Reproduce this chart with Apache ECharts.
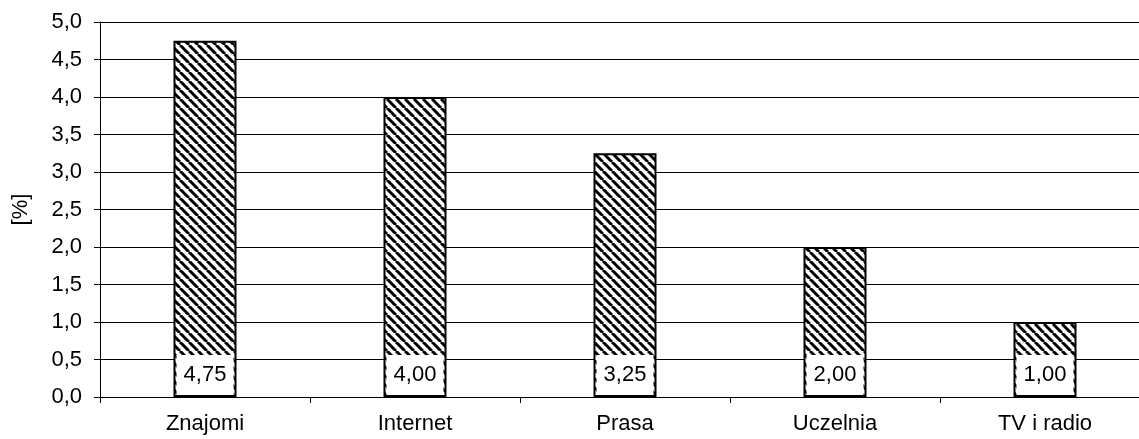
<!DOCTYPE html>
<html>
<head>
<meta charset="utf-8">
<script src="https://cdn.jsdelivr.net/npm/echarts@6/dist/echarts.min.js"></script>
<style>
  html, body { margin: 0; padding: 0; background: #fff; }
  #chart { width: 1139px; height: 439px; }
</style>
</head>
<body>
<div id="chart"></div>
<script>
const categories = ['Znajomi', 'Internet', 'Prasa', 'Uczelnia', 'TV i radio']
const values = [4.75, 4.00, 3.25, 2.00, 1.00]
const yTicks = { min: 0, max: 5, step: 0.5 }

// diagonal hatch like the original "\\\\" fill
function hatch () {
  const size = 9
  const c = document.createElement('canvas')
  c.width = size
  c.height = size
  const ctx = c.getContext('2d')
  ctx.fillStyle = '#fff'
  ctx.fillRect(0, 0, size, size)
  ctx.strokeStyle = '#000'
  ctx.lineWidth = 3
  for (const o of [-size, 0, size]) {
    ctx.beginPath()
    ctx.moveTo(o, 0)
    ctx.lineTo(o + size, size)
    ctx.stroke()
  }
  return c
}

const comma = (v, d) => v.toFixed(d).replace('.', ',')
const font = 'Liberation Sans, Arial, sans-serif'

const chart = echarts.init(document.getElementById('chart'))
chart.setOption({
  animation: false,
  grid: { left: 100, top: 22, width: 1050, bottom: 42, outerBoundsMode: 'none' },
  xAxis: {
    type: 'category',
    data: categories,
    axisLine: { lineStyle: { color: '#000', width: 1 } },
    axisTick: { show: true, length: 6, lineStyle: { color: '#000' } },
    axisLabel: { color: '#000', fontSize: 22, fontFamily: font, margin: 16 }
  },
  yAxis: {
    type: 'value',
    min: yTicks.min,
    max: yTicks.max,
    interval: yTicks.step,
    name: '[%]',
    nameLocation: 'middle',
    nameGap: 68,
    nameTextStyle: { color: '#000', fontSize: 22, fontFamily: font },
    axisLine: { show: true, lineStyle: { color: '#000', width: 1 } },
    axisTick: { show: true, length: 6, lineStyle: { color: '#000' } },
    axisLabel: {
      color: '#000',
      fontSize: 22,
      fontFamily: font,
      margin: 18,
      formatter: v => comma(v, 1)
    },
    splitLine: { lineStyle: { color: '#000', width: 1 } }
  },
  series: [
    {
      type: 'bar',
      data: values,
      barWidth: '30%',
      itemStyle: {
        color: { image: hatch(), repeat: 'repeat' },
        borderColor: '#000',
        borderWidth: 2
      },
      label: {
        show: true,
        position: 'insideBottom',
        distance: 2,
        color: '#000',
        fontSize: 22,
        fontFamily: font,
        backgroundColor: '#fff',
        width: 57,
        align: 'center',
        padding: [9, 0, 9, 0],
        formatter: p => comma(p.value, 2)
      }
    }
  ]
})
</script>
</body>
</html>
